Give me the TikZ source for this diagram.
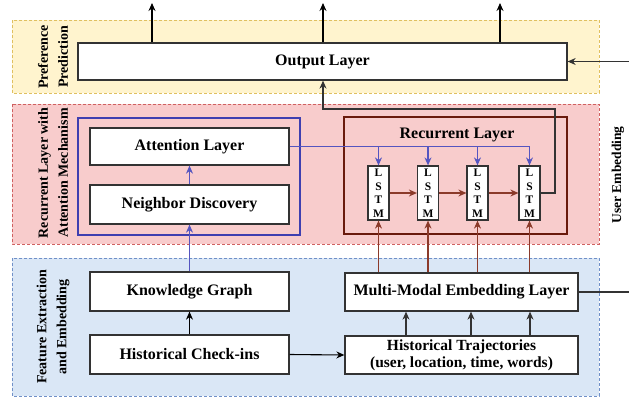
\documentclass[tikz,border=0pt]{standalone}
\usepackage{fontspec}
\setmainfont{Liberation Serif}
\usetikzlibrary{arrows.meta}
\definecolor{bandY}{HTML}{FFF4CE}
\definecolor{bandYd}{HTML}{E0C060}
\definecolor{bandR}{HTML}{F8CCCC}
\definecolor{bandRd}{HTML}{D06060}
\definecolor{bandB}{HTML}{DAE7F6}
\definecolor{bandBd}{HTML}{7090C8}
\definecolor{attblue}{HTML}{3F3FB0}
\definecolor{lineblue}{HTML}{5555C0}
\definecolor{recbrown}{HTML}{6A1A0C}
\definecolor{arrbrown}{HTML}{8B3A2A}
\definecolor{boxline}{HTML}{333333}
\tikzset{
  band/.style={dashed, dash pattern=on 3pt off 2pt, line width=0.7pt},
  box/.style={draw=boxline, fill=white, line width=1.3pt, inner sep=0pt, font=\fontsize{16}{18}\selectfont\bfseries, align=center},
  lstm/.style={draw=boxline, fill=white, line width=1.2pt, inner sep=0pt, minimum width=21pt, minimum height=54pt, font=\fontsize{11.5}{13.5}\selectfont\bfseries, align=center},
  frame/.style={line width=2.4pt},
  bandlabel/.style={rotate=90, font=\fontsize{14}{20}\selectfont\bfseries, align=center},
  arr/.style={-{Stealth[length=8pt,width=7pt]}, line width=1.1pt},
}
\begin{document}
\begin{tikzpicture}[x=1pt,y=-1pt]
\useasboundingbox (0,0) rectangle (629,397);
% bands
\draw[band, fill=bandY, draw=bandYd] (12,20) rectangle (599,93);
\draw[band, fill=bandR, draw=bandRd] (12,104) rectangle (599,244);
\draw[band, fill=bandB, draw=bandBd] (12,258) rectangle (599,396);
\node[bandlabel] (lp) at (53,57) {Preference\\Prediction};
\node[bandlabel] (lr) at (53,173) {Recurrent Layer with\\Attention Mechanism};
\node[bandlabel] (lf) at (53,327) {Feature Extraction\\and Embedding};
\node[rotate=90, font=\fontsize{13.5}{15}\selectfont\bfseries] (ue) at (618,175) {User Embedding};
% frames
\draw[frame, draw=attblue] (78,118) rectangle (300,235);
\draw[frame, draw=recbrown] (344,117) rectangle (567,234);
\node[font=\fontsize{16}{18}\selectfont\bfseries] (rl) at (457,135) {Recurrent Layer};
% boxes
\node[box, minimum width=489pt, minimum height=37pt] (out) at (322.5,61.5) {Output Layer};
\node[box, minimum width=199pt, minimum height=37pt] (att) at (189.5,146.5) {Attention Layer};
\node[box, minimum width=199pt, minimum height=39pt] (nd) at (189.5,204.5) {Neighbor Discovery};
\node[box, minimum width=199pt, minimum height=39pt] (kg) at (189.5,291.5) {Knowledge Graph};
\node[box, minimum width=199pt, minimum height=39pt] (hc) at (189.5,354.5) {Historical Check-ins};
\node[box, minimum width=233pt, minimum height=38pt] (mm) at (461.5,292) {Multi-Modal Embedding Layer};
\node[box, minimum width=233pt, minimum height=38pt, font=\fontsize{15.5}{17}\selectfont\bfseries] (ht) at (461.5,355) {Historical Trajectories\\(user, location, time, words)};
\node[lstm] (l1) at (378.5,193) {L\\S\\T\\M};
\node[lstm] (l2) at (428,193) {L\\S\\T\\M};
\node[lstm] (l3) at (477.5,193) {L\\S\\T\\M};
\node[lstm] (l4) at (529.5,193) {L\\S\\T\\M};
% output arrows
\coordinate (o1) at (152,3);
\coordinate (o2) at (323,3);
\coordinate (o3) at (500,3);
\draw[arr] (out.north -| o1) -- (o1);
\draw[arr] (out.north -| o2) -- (o2);
\draw[arr] (out.north -| o3) -- (o3);
\coordinate (ueA) at (629,61.5);
\coordinate (ueB) at (629,292);
\draw[arr, draw=boxline] (ueA) -- (out.east);
\draw[line width=1.1pt, draw=boxline] (mm.east) -- (ueB);
% LSTM output to output layer
\coordinate (r1) at (555,193);
\coordinate (r2) at (555,109);
\coordinate (r3) at (323,109);
\draw[arr, draw=boxline] (l4.east) -- (r1) -- (r2) -- (r3) -- (out.south -| r3);
% attention to LSTMs
\draw[line width=1.1pt, draw=lineblue] (att.east) -- (att.east -| l4.north);
\foreach \l in {l1,l2,l3,l4}{
  \draw[arr, draw=lineblue] (att.east -| \l.north) -- (\l.north);
}
% LSTM chain
\draw[arr, draw=arrbrown] (l1.east) -- (l2.west);
\draw[arr, draw=arrbrown] (l2.east) -- (l3.west);
\draw[arr, draw=arrbrown] (l3.east) -- (l4.west);
% embedding to LSTMs
\foreach \l in {l1,l2,l3,l4}{
  \draw[arr, draw=arrbrown] (mm.north -| \l.south) -- (\l.south);
}
% left column
\draw[arr, draw=lineblue] (kg.north) -- (nd.south);
\draw[arr, draw=lineblue] (nd.north) -- (att.south);
\draw[arr] (hc.north) -- (kg.south);
\draw[arr] (hc.east) -- (ht.west);
% trajectories to embedding
\coordinate (t1) at (406,0);
\coordinate (t2) at (471,0);
\coordinate (t3) at (530,0);
\draw[arr, draw=boxline] (ht.north -| t1) -- (mm.south -| t1);
\draw[arr, draw=boxline] (ht.north -| t2) -- (mm.south -| t2);
\draw[arr, draw=boxline] (ht.north -| t3) -- (mm.south -| t3);
\end{tikzpicture}
\end{document}
